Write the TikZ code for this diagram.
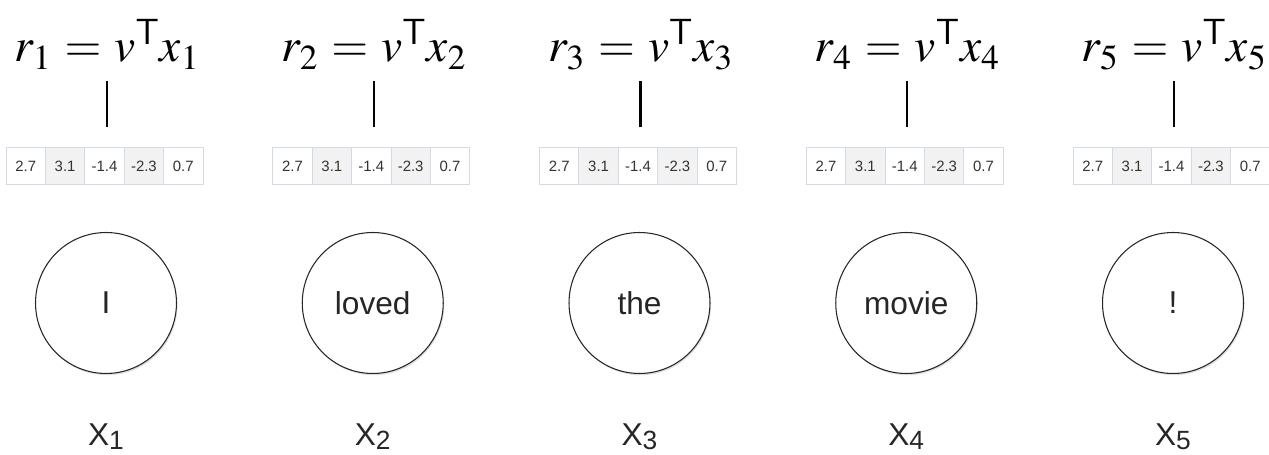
\documentclass[tikz,border=0pt]{standalone}
\usepackage{mathptmx}
\usepackage{fontspec}
\setsansfont{Liberation Sans}
\usetikzlibrary{positioning, shadows}
\definecolor{cellborder}{HTML}{D3DCE6}
\definecolor{cellshade}{HTML}{F2F2F2}
\definecolor{celltext}{HTML}{333333}
\tikzset{
  cell/.style={
    rectangle, draw=cellborder, fill=#1, inner sep=0pt,
    minimum width=0.788cm, minimum height=0.74cm,
    font=\sffamily\fontsize{8.5}{9}\selectfont, text=celltext, line width=0.5pt
  },
  cell/.default=white,
  word/.style={
    circle, draw=black!85, fill=white, minimum size=2.82cm, inner sep=0pt,
    font=\sffamily\fontsize{18}{20}\selectfont, text=black!85, line width=0.6pt,
    drop shadow={shadow xshift=0.6pt, shadow yshift=-1pt, opacity=0.25}
  },
  score/.style={font=\fontsize{27}{30}\selectfont, inner sep=0pt, anchor=base},
  token/.style={font=\sffamily\fontsize{18}{20}\selectfont, text=black!85, inner sep=0pt, anchor=base},
  bar/.style={line width=1.2pt},
}

\begin{document}
\begin{tikzpicture}[x=0.02cm, y=-0.02cm]
\useasboundingbox (0,0) rectangle (1269,455);

\foreach \i/\w in {1/I, 2/loved, 3/the, 4/movie, 5/!} {
  \pgfmathsetmacro\cx{106+266.75*(\i-1)}

  % Score on top
  \node[score] (f\i) at (\cx+1,62) {$r_{\i} \mskip1mu = \mskip1mu v^{\mathsf{T}} x_{\i}$};

  % Vector cells
  \foreach \j/\v in {1/2.7, 2/3.1, 3/-1.4, 4/-2.3, 5/0.7} {
    \pgfmathsetmacro\ex{\cx-100+39.4*\j-19.7}
    \ifodd\j
      \node[cell] (c\i-\j) at (\ex,166) {\v};
    \else
      \node[cell=cellshade] (c\i-\j) at (\ex,166) {\v};
    \fi
  }
  \draw[bar] ([yshift=0.4cm]c\i-3.north -| f\i.south) -- ++(0,-46);

  % Word and its label
  \node[word] (w\i) at (\cx,303) {\w};
  \node[token] (x\i) at (\cx,446) {X\raisebox{-0.2ex}{\fontsize{15}{16}\selectfont\i}};
}

\end{tikzpicture}
\end{document}
